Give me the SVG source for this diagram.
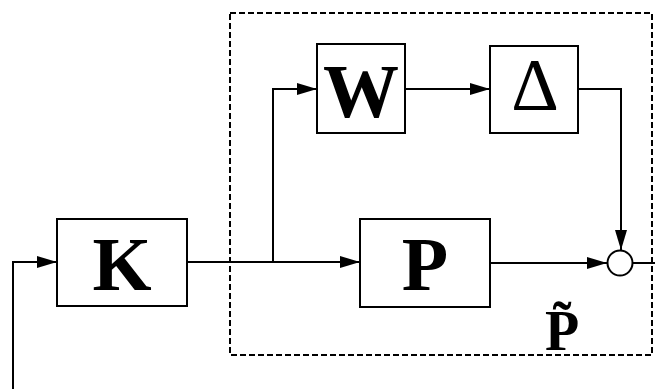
<svg xmlns="http://www.w3.org/2000/svg" width="655" height="389" viewBox="0 0 655 389">
<style>
.box{fill:#fff;stroke:#000;stroke-width:2}
.ln{fill:none;stroke:#000;stroke-width:2}
.lbl{font-family:"Liberation Serif","Times New Roman",serif;font-weight:bold;text-anchor:middle;fill:#000}
.reg{font-weight:normal}
</style>
<defs>
<marker id="ah" markerUnits="userSpaceOnUse" markerWidth="22" markerHeight="16" refX="20" refY="8" orient="auto">
<path d="M0,2 L20,8 L0,14 z" fill="#000"/>
</marker>
</defs>
<rect x="230" y="13" width="422" height="342" fill="none" stroke="#000" stroke-width="2" stroke-dasharray="6,3"/>
<g id="connectors">
<path class="ln" d="M13,389 V262 H57" marker-end="url(#ah)"/>
<path class="ln" d="M187,262 H360" marker-end="url(#ah)"/>
<path class="ln" d="M273,262 V89 H317" marker-end="url(#ah)"/>
<path class="ln" d="M405,89 H490" marker-end="url(#ah)"/>
<path class="ln" d="M578,89 H621 V250" marker-end="url(#ah)"/>
<path class="ln" d="M490,263 H607" marker-end="url(#ah)"/>
<path class="ln" d="M633,263 H655"/>
</g>
<g id="K"><rect class="box" x="57" y="219" width="130" height="87"/><text class="lbl" x="122" y="290" font-size="76">K</text></g>
<g id="W"><rect class="box" x="317" y="44" width="88" height="89"/><text class="lbl" x="361" y="117" font-size="76">W</text></g>
<g id="Delta"><rect class="box" x="490" y="46" width="88" height="87"/><text class="lbl reg" x="535" y="110" font-size="74">Δ</text></g>
<g id="P"><rect class="box" x="360" y="219" width="130" height="88"/><text class="lbl" x="425" y="290" font-size="76">P</text></g>
<g id="sum"><circle cx="620" cy="263" r="12.5" fill="#fff" stroke="#000" stroke-width="2"/></g>
<g id="Ptilde"><text class="lbl" x="562" y="350" font-size="56">P̃</text></g>
</svg>
